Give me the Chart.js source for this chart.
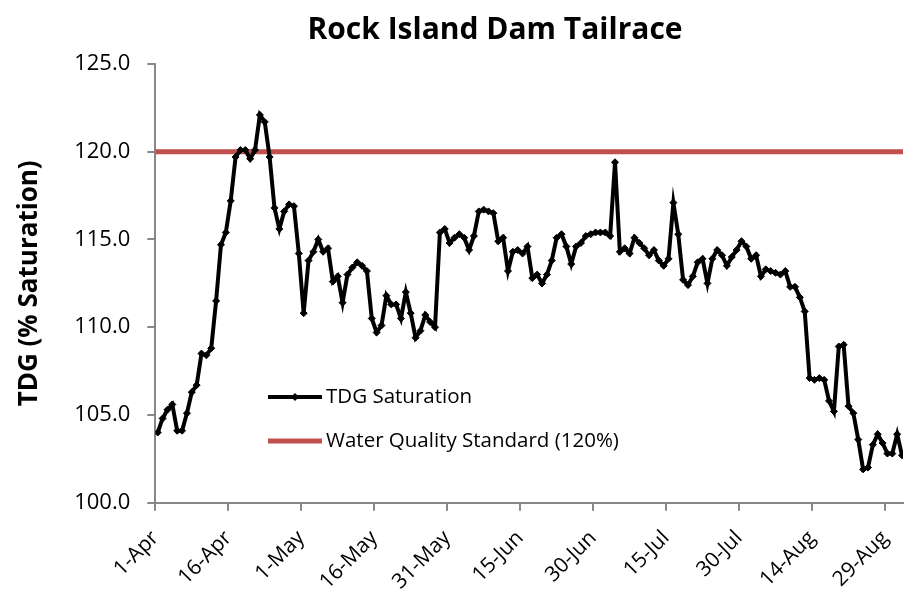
<!DOCTYPE html>
<html>
<head>
<meta charset="utf-8">
<script src="https://cdn.jsdelivr.net/npm/chart.js@4.4.1/dist/chart.umd.min.js"></script>
<style>
  html, body { margin: 0; padding: 0; background: #fff; }
  #wrap { width: 908px; height: 598px; }
</style>
</head>
<body>
<div id="wrap"><canvas id="chart" width="908" height="598"></canvas></div>
<script>
// chart data
const chartTitle = 'Rock Island Dam Tailrace';
const yAxisTitle = 'TDG (% Saturation)';
const seriesNames = ['TDG Saturation', 'Water Quality Standard (120%)'];
const tickLabels = ['1-Apr', '16-Apr', '1-May', '16-May', '31-May', '15-Jun', '30-Jun', '15-Jul', '30-Jul', '14-Aug', '29-Aug'];
const tickDays = [0, 15, 30, 45, 60, 75, 90, 105, 120, 135, 150];
const yTicks = [100, 105, 110, 115, 120, 125];
const standardValue = 120;
const lastDay = 153.7;

// daily TDG values starting 1-Apr
const tdgValues = [
  104.0, 104.8, 105.3, 105.6, 104.1, 104.1, 105.1, 106.3, 106.7, 108.5,
  108.4, 108.8, 111.5, 114.7, 115.4, 117.2, 119.7, 120.1, 120.1, 119.6,
  120.1, 122.1, 121.7, 119.7, 116.8, 115.6, 116.6, 117.0, 116.9, 114.2,
  110.8, 113.8, 114.3, 115.0, 114.3, 114.5, 112.6, 112.9, 111.4, 113.0,
  113.4, 113.7, 113.5, 113.2, 110.5, 109.7, 110.1, 111.8, 111.3, 111.3,
  110.5, 112.0, 110.8, 109.4, 109.8, 110.7, 110.3, 110.0, 115.4, 115.6,
  114.8, 115.1, 115.3, 115.1, 114.4, 115.2, 116.6, 116.7, 116.6, 116.5,
  114.9, 115.1, 113.2, 114.3, 114.4, 114.2, 114.6, 112.8, 113.0, 112.5,
  113.0, 113.8, 115.1, 115.3, 114.6, 113.6, 114.6, 114.8, 115.2, 115.3,
  115.4, 115.4, 115.4, 115.2, 119.4, 114.3, 114.5, 114.2, 115.1, 114.8,
  114.5, 114.1, 114.4, 113.8, 113.5, 113.9, 117.1, 115.3, 112.7, 112.4,
  112.9, 113.7, 113.9, 112.5, 113.9, 114.4, 114.1, 113.5, 114.0, 114.4,
  114.9, 114.6, 113.9, 114.1, 112.9, 113.3, 113.2, 113.1, 113.0, 113.2,
  112.3, 112.3, 111.7, 110.9, 107.1, 107.0, 107.1, 107.0, 105.8, 105.2,
  108.9, 109.0, 105.5, 105.1, 103.6, 101.9, 102.0, 103.3, 103.9, 103.4,
  102.8, 102.8, 103.9, 102.7
];

const FONT = "'Open Sans', 'Liberation Sans', sans-serif";
const axisColor = '#888888';
const leftPad = 14;

// points sit in the middle of each day
const tdgPoints = tdgValues.map((v, i) => ({ x: i + 0.5, y: v }));
const standardPoints = [{ x: 0, y: standardValue }, { x: lastDay, y: standardValue }];

// title drawn centred over the plot like the original
const titlePlugin = {
  id: 'titleText',
  afterDraw(chart) {
    const ctx = chart.ctx;
    ctx.save();
    ctx.font = "bold 30px " + FONT;
    ctx.fillStyle = '#000';
    ctx.textAlign = 'center';
    ctx.textBaseline = 'middle';
    ctx.fillText(chartTitle, 495, 30);
    ctx.restore();
  }
};

// legend inside the plot area
const legendPlugin = {
  id: 'insideLegend',
  afterDraw(chart) {
    const ctx = chart.ctx;
    ctx.save();
    chart.data.datasets.forEach((ds, i) => {
      const y = 397 + i * 44;
      ctx.strokeStyle = ds.borderColor;
      ctx.lineWidth = ds.borderWidth;
      ctx.beginPath();
      ctx.moveTo(268, y);
      ctx.lineTo(322, y);
      ctx.stroke();
      if (ds.pointRadius > 0) {
        const r = ds.pointRadius + 0.5;
        ctx.fillStyle = ds.pointBackgroundColor;
        ctx.beginPath();
        ctx.moveTo(295, y - r);
        ctx.lineTo(295 + r, y);
        ctx.lineTo(295, y + r);
        ctx.lineTo(295 - r, y);
        ctx.closePath();
        ctx.fill();
      }
      ctx.fillStyle = '#000';
      ctx.font = "20.5px " + FONT;
      ctx.textAlign = 'left';
      ctx.textBaseline = 'middle';
      ctx.fillText(ds.label, 326, y);
    });
    ctx.restore();
  }
};

const ctx = document.getElementById('chart');
const chart = new Chart(ctx, {
  type: 'line',
  data: {
    datasets: [{
      label: seriesNames[0],
      data: tdgPoints,
      borderColor: '#000',
      borderWidth: 4,
      pointStyle: 'rectRot',
      pointRadius: 3.5,
      pointBackgroundColor: '#000',
      pointBorderColor: '#000',
      pointBorderWidth: 1,
      tension: 0
    }, {
      label: seriesNames[1],
      data: standardPoints,
      borderColor: '#C0504D',
      borderWidth: 5,
      pointRadius: 0,
      tension: 0
    }]
  },
  options: {
    responsive: false,
    animation: false,
    devicePixelRatio: 1,
    layout: { padding: { top: 64, left: leftPad, right: 0, bottom: 0 } },
    plugins: {
      legend: { display: false },
      title: { display: false },
      tooltip: { enabled: false }
    },
    scales: {
      x: {
        type: 'linear',
        min: 0,
        max: lastDay,
        afterBuildTicks: s => { s.ticks = tickDays.map(v => ({ value: v })); },
        afterFit: s => { s.height = 95.3; s.paddingLeft = 0; s.paddingRight = 0; },
        grid: { drawOnChartArea: false, drawTicks: true, tickLength: 8, color: axisColor, lineWidth: 2 },
        border: { color: axisColor, width: 2 },
        ticks: {
          autoSkip: false,
          maxRotation: 45,
          minRotation: 45,
          padding: 15,
          color: '#000',
          font: { family: FONT, size: 21 },
          callback: v => tickLabels[tickDays.indexOf(v)]
        }
      },
      y: {
        min: 100,
        max: 125,
        afterBuildTicks: s => { s.ticks = yTicks.map(v => ({ value: v })); },
        afterFit: s => { s.width = 155.3 - leftPad; s.paddingTop = 0; s.paddingBottom = 0; },
        grid: { drawOnChartArea: false, drawTicks: true, tickLength: 8, color: axisColor, lineWidth: 2 },
        border: { color: axisColor, width: 2 },
        ticks: {
          padding: 17,
          color: '#000',
          font: { family: FONT, size: 22 },
          callback: v => v.toFixed(1)
        },
        title: {
          display: true,
          text: yAxisTitle,
          color: '#000',
          padding: { top: 0, bottom: 0 },
          font: { family: FONT, size: 26, weight: 'bold' }
        }
      }
    }
  },
  plugins: [titlePlugin, legendPlugin]
});
</script>
</body>
</html>
